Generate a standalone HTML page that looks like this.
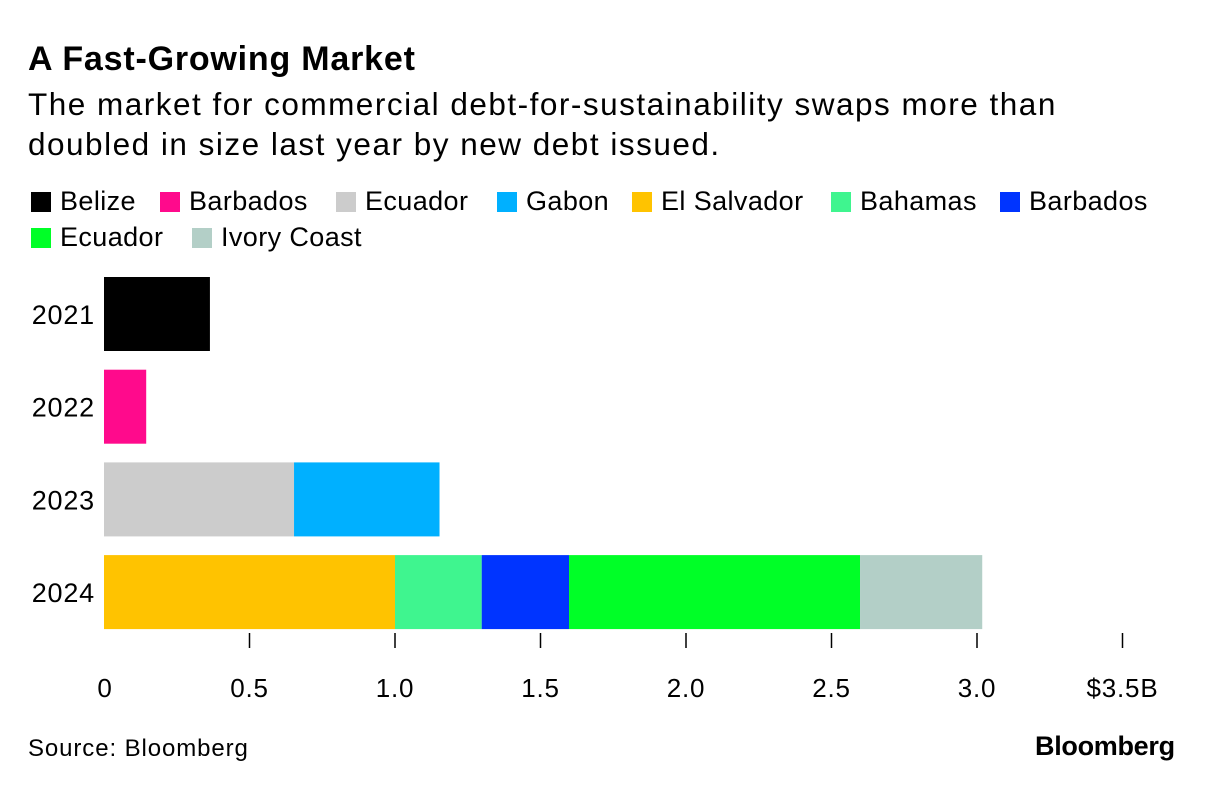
<!DOCTYPE html>
<html><head><meta charset="utf-8"><style>
body{margin:0;width:1212px;height:790px;background:#fff;font-family:"Liberation Sans",Arial,sans-serif;color:#000;position:relative;overflow:hidden}
.t{position:absolute;white-space:nowrap}
.lg{position:absolute;font-size:27px;letter-spacing:0.4px;line-height:30px;white-space:nowrap}
.lg i{display:inline-block;width:20px;height:20px;vertical-align:-2px;margin-right:9px}
</style></head><body>
<div class="t" style="left:28px;top:40px;font-size:34px;font-weight:bold;letter-spacing:0.8px">A Fast-Growing Market</div>
<div class="t" style="left:28px;top:84px;font-size:31.5px;line-height:40px;letter-spacing:1.5px">The market for commercial debt-for-sustainability swaps more than<br>doubled in size last year by new debt issued.</div>
<div id="legend"></div>
<svg id="chart" width="1212" height="790" style="position:absolute;left:0;top:0"></svg>
<div class="t" style="left:28px;top:735px;font-size:24px;letter-spacing:0.9px">Source: Bloomberg</div>
<div class="t" style="left:1035px;top:731px;font-size:27px;font-weight:bold;letter-spacing:-0.3px">Bloomberg</div>
<script>
const years=["2021","2022","2023","2024"];
const segNames=[["Belize"],["Barbados"],["Ecuador","Gabon"],["El Salvador","Bahamas","Barbados","Ecuador","Ivory Coast"]];
const segValues=[[0.364],[0.145],[0.653,0.5],[1.0,0.298,0.3,1.0,0.42]];
const segColors=[["#000000"],["#ff0a8c"],["#cccccc","#00b0ff"],["#ffc300","#3ff58f","#0034ff","#00ff27","#b3cfc7"]];
const ticks=[0,0.5,1.0,1.5,2.0,2.5,3.0,3.5];
const tickLabels=["0","0.5","1.0","1.5","2.0","2.5","3.0","$3.5B"];
const legendNames=["Belize","Barbados","Ecuador","Gabon","El Salvador","Bahamas","Barbados","Ecuador","Ivory Coast"];
const legendColors=["#000000","#ff0a8c","#cccccc","#00b0ff","#ffc300","#3ff58f","#0034ff","#00ff27","#b3cfc7"];

const X=v=>104+v*291;
const rowTop=i=>277+i*92.7;
const barH=74;
const NS="http://www.w3.org/2000/svg";
const svg=document.getElementById('chart');
years.forEach((y,i)=>{
  let acc=0;
  segValues[i].forEach((v,j)=>{
    const r=document.createElementNS(NS,'rect');
    r.setAttribute('x',X(acc));r.setAttribute('y',rowTop(i));
    r.setAttribute('width',X(acc+v)-X(acc));r.setAttribute('height',barH);
    r.setAttribute('fill',segColors[i][j]);
    
    
    svg.appendChild(r);acc+=v;
  });
  const t=document.createElementNS(NS,'text');
  t.setAttribute('x',95);t.setAttribute('y',rowTop(i)+barH/2+10);
  t.setAttribute('text-anchor','end');t.setAttribute('font-size','27');t.setAttribute('letter-spacing','0.8');
  t.textContent=y;
  
  
  svg.appendChild(t);
});
ticks.forEach((v,k)=>{
  if(v>0){
    const l=document.createElementNS(NS,'line');
    l.setAttribute('x1',X(v));l.setAttribute('x2',X(v));l.setAttribute('y1',633);l.setAttribute('y2',648);
    l.setAttribute('stroke','#000');l.setAttribute('stroke-width','1.5');
    
    
    svg.appendChild(l);
  }
  const t=document.createElementNS(NS,'text');
  t.setAttribute('x',k==0?X(v)+1:X(v));t.setAttribute('y',697);
  t.setAttribute('text-anchor','middle');t.setAttribute('font-size','26');t.setAttribute('letter-spacing','0.8');
  t.textContent=tickLabels[k];
  
  
  svg.appendChild(t);
});
const lgX=[31,160,336,497,632,831,1000,31,192];
const lgY=[186,186,186,186,186,186,186,222,222];
const lg=document.getElementById('legend');
legendNames.forEach((n,i)=>{
  const d=document.createElement('div');
  d.className='lg';d.style.left=lgX[i]+'px';d.style.top=lgY[i]+'px';
  d.innerHTML='<i style="background:'+legendColors[i]+'"></i>'+n;
  
  
  lg.appendChild(d);
});
</script>
</body></html>
